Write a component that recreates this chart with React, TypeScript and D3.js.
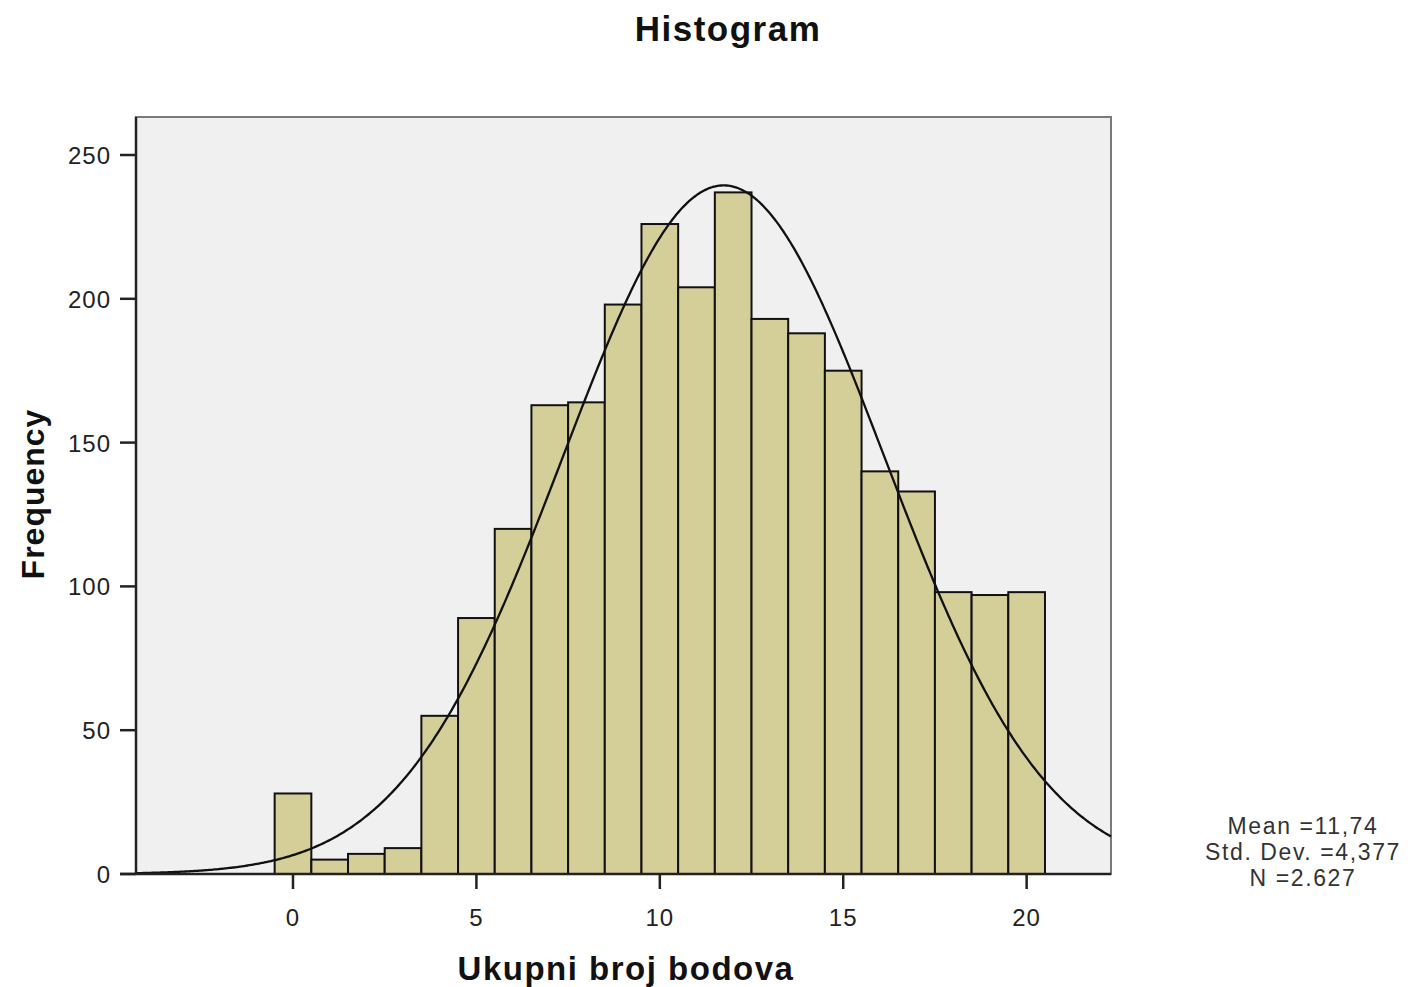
import * as d3 from 'd3';
import { useEffect, useRef } from 'react';

// Frequencies for score 0..20
const scores = [0, 1, 2, 3, 4, 5, 6, 7, 8, 9, 10, 11, 12, 13, 14, 15, 16, 17, 18, 19, 20];
const counts = [28, 5, 7, 9, 55, 89, 120, 163, 164, 198, 226, 204, 237, 193, 188, 175, 140, 133, 98, 97, 98];
const xTicks = [0, 5, 10, 15, 20];
const yTicks = [0, 50, 100, 150, 200, 250];
const statLines = ['Mean =11,74', 'Std. Dev. =4,377', 'N =2.627'];
const mean = 11.74;
const sd = 4.377;
const n = 2627;

const Histogram = () => {
  const ref = useRef<SVGSVGElement | null>(null);

  useEffect(() => {
    document.body.style.margin = '0';
    const width = 1416;
    const height = 987;
    const left = 136;
    const right = 1111;
    const top = 117;
    const bottom = 874;

    const svg = d3.select(ref.current).attr('width', width).attr('height', height);
    svg.selectAll('*').remove();

    const x = d3.scaleLinear().domain([-4.28, 22.3]).range([left, right]);
    const y = d3.scaleLinear().domain([0, 250]).range([bottom, 155]);

    const font = 'Liberation Sans, Arial, sans-serif';

    // plot background
    svg.append('rect')
      .attr('x', left).attr('y', top)
      .attr('width', right - left).attr('height', bottom - top)
      .attr('fill', '#f0f0f0')
      .attr('stroke', '#7a7a7a').attr('stroke-width', 2);

    // bars
    svg.append('g').selectAll('rect').data(scores).join('rect')
      .attr('x', (d) => x(d - 0.5))
      .attr('width', (d) => x(d + 0.5) - x(d - 0.5))
      .attr('y', (_d, i) => y(counts[i]))
      .attr('height', (_d, i) => bottom - y(counts[i]))
      .attr('fill', '#d4ce99')
      .attr('stroke', '#111').attr('stroke-width', 2);

    // normal curve
    const pdf = (v: number) => (n / (sd * Math.sqrt(2 * Math.PI))) * Math.exp(-0.5 * ((v - mean) / sd) ** 2);
    const pts = d3.range(-4.28, 22.3, 0.05).map((v) => [v, pdf(v)] as [number, number]);
    pts.push([22.3, pdf(22.3)]);
    const line = d3.line<[number, number]>().x((d) => x(d[0])).y((d) => y(d[1])).curve(d3.curveBasis);
    svg.append('path')
      .attr('d', line(pts))
      .attr('fill', 'none')
      .attr('stroke', '#111').attr('stroke-width', 2.3);

    // axes
    svg.append('line').attr('x1', left).attr('x2', left).attr('y1', top).attr('y2', bottom)
      .attr('stroke', '#222').attr('stroke-width', 2.5);
    svg.append('line').attr('x1', 120).attr('x2', right).attr('y1', bottom).attr('y2', bottom)
      .attr('stroke', '#222').attr('stroke-width', 2.5);

    const yg = svg.append('g');
    yTicks.forEach((t) => {
      yg.append('line').attr('x1', 120).attr('x2', left).attr('y1', y(t)).attr('y2', y(t))
        .attr('stroke', '#222').attr('stroke-width', 2.5);
      yg.append('text').attr('x', 111).attr('y', y(t) + 9)
        .attr('text-anchor', 'end').attr('font-family', font).attr('font-size', 24)
        .attr('letter-spacing', 1)
        .attr('fill', '#222').text(t);
    });

    const xg = svg.append('g');
    xTicks.forEach((t) => {
      xg.append('line').attr('x1', x(t)).attr('x2', x(t)).attr('y1', bottom).attr('y2', bottom + 15)
        .attr('stroke', '#222').attr('stroke-width', 2.5);
      xg.append('text').attr('x', x(t)).attr('y', 926)
        .attr('text-anchor', 'middle').attr('font-family', font).attr('font-size', 24)
        .attr('letter-spacing', 1)
        .attr('fill', '#222').text(t);
    });

    // titles
    svg.append('text').attr('x', 728).attr('y', 41).attr('text-anchor', 'middle')
      .attr('font-family', font).attr('font-weight', 'bold').attr('font-size', 35)
      .attr('letter-spacing', 1.5)
      .attr('fill', '#111').text('Histogram');
    svg.append('text').attr('x', 626).attr('y', 980).attr('text-anchor', 'middle')
      .attr('font-family', font).attr('font-weight', 'bold').attr('font-size', 33)
      .attr('letter-spacing', 1.5)
      .attr('fill', '#111').text('Ukupni broj bodova');
    svg.append('text').attr('transform', 'translate(44,494) rotate(-90)').attr('text-anchor', 'middle')
      .attr('font-family', font).attr('font-weight', 'bold').attr('font-size', 32)
      .attr('letter-spacing', 1)
      .attr('fill', '#111').text('Frequency');

    // stats
    statLines.forEach((s, i) => {
      svg.append('text').attr('x', 1303).attr('y', 834 + i * 26).attr('text-anchor', 'middle')
        .attr('font-family', font).attr('font-size', 23).attr('letter-spacing', 1.6)
        .attr('fill', '#333').text(s);
    });
  }, []);

  return <svg ref={ref}></svg>;
};

export default function App() {
  return <Histogram />;
}
